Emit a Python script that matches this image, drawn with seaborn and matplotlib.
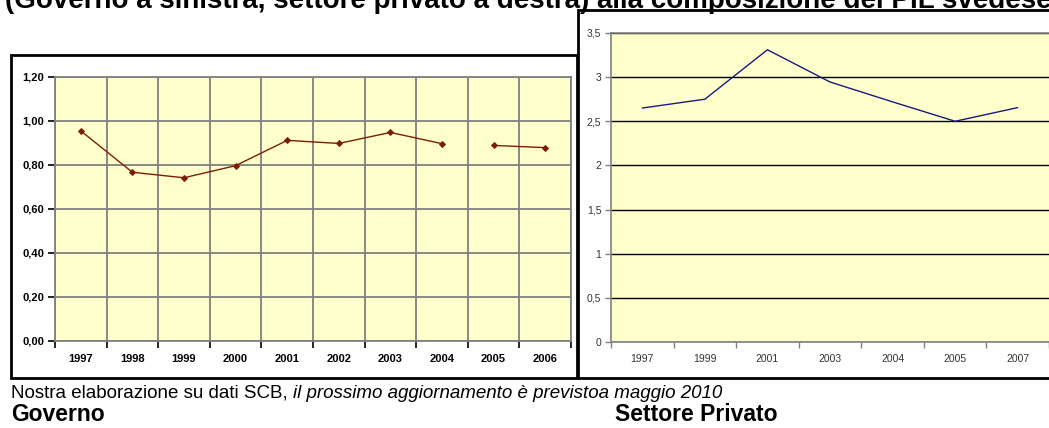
import numpy as np
import seaborn as sns
import matplotlib.pyplot as plt
from matplotlib.patches import Rectangle
from matplotlib.ticker import FixedLocator

# Governo (left chart)
gov_years = ['1997', '1998', '1999', '2000', '2001', '2002', '2003', '2004', '2005', '2006']
gov_values = [0.955, 0.767, 0.742, 0.797, 0.912, 0.898, 0.948, 0.897, 0.889, 0.879]
gov_yticks = [0.0, 0.2, 0.4, 0.6, 0.8, 1.0, 1.2]
gov_ylabels = ['0,00', '0,20', '0,40', '0,60', '0,80', '1,00', '1,20']

# Settore privato (right chart)
priv_years = ['1997', '1999', '2001', '2003', '2004', '2005', '2007']
priv_values = [2.65, 2.75, 3.31, 2.945, 2.72, 2.50, 2.655]
priv_yticks = [0, 0.5, 1, 1.5, 2, 2.5, 3, 3.5]
priv_ylabels = ['0', '0,5', '1', '1,5', '2', '2,5', '3', '3,5']

title = '(Governo a sinistra, settore privato a destra) alla composizione del PIL svedese'
source_plain = 'Nostra elaborazione su dati SCB, '
source_italic = 'il prossimo aggiornamento è previstoa maggio 2010'

sns.set_theme(style='ticks')
plt.rcParams['font.family'] = ['Liberation Sans', 'DejaVu Sans']
plt.rcParams['text.color'] = 'black'

W, H = 1049, 428
fig = plt.figure(figsize=(W / 100, H / 100), dpi=100)


def box(x0, y0, x1, y1):
    # pixel coords (top-left origin) -> figure coords
    return [x0 / W, 1 - y1 / H, (x1 - x0) / W, (y1 - y0) / H]


bg = '#FFFFCC'
gray = '#808080'

# frames around the two charts
fig.add_artist(Rectangle((11 / W, 1 - 378 / H), 566 / W, 323 / H, transform=fig.transFigure,
                         fill=False, edgecolor='black', linewidth=2))
fig.add_artist(Rectangle((578 / W, 1 - 378 / H), 500 / W, 368 / H, transform=fig.transFigure,
                         fill=False, edgecolor='black', linewidth=2))

# ---- left chart: Governo
ax1 = fig.add_axes(box(55, 77, 571, 341))
ax1.set_facecolor(bg)
n1 = len(gov_years)
sns.pointplot(x=gov_years[:8], y=gov_values[:8], order=gov_years, color='#7A1E08',
              markers='D', markersize=3, linewidth=1, ax=ax1)
sns.pointplot(x=gov_years[8:], y=gov_values[8:], order=gov_years, color='#7A1E08',
              markers='D', markersize=3, linewidth=1, ax=ax1)
ax1.set_xlim(-0.5, n1 - 0.5)
ax1.set_ylim(0, 1.2)
ax1.set_yticks(gov_yticks)
ax1.set_yticklabels(gov_ylabels, fontsize=8, fontweight='bold', color='black')
ax1.set_xticks(range(n1))
ax1.set_xticklabels(gov_years, fontsize=8, fontweight='bold', color='black')
ax1.xaxis.set_minor_locator(FixedLocator(np.arange(-0.5, n1, 1.0)))
ax1.tick_params(axis='x', which='major', length=0, pad=9)
ax1.tick_params(axis='x', which='minor', length=5, width=1.2, color='black', direction='out')
ax1.tick_params(axis='y', length=5, width=1.2, color='black', pad=3)
ax1.grid(True, axis='y', color=gray, linewidth=1.3)
ax1.grid(True, axis='x', which='minor', color=gray, linewidth=1.3)
ax1.set_axisbelow(True)
for s in ax1.spines.values():
    s.set_color(gray)
    s.set_linewidth(1.3)
ax1.set_xlabel('')
ax1.set_ylabel('')

# ---- right chart: Settore Privato
ax2 = fig.add_axes(box(611, 33, 1049, 342))
ax2.set_facecolor(bg)
n2 = len(priv_years)
sns.lineplot(x=priv_years, y=priv_values, color='#1A1A80', linewidth=1, ax=ax2)
ax2.set_xlim(-0.5, n2 - 0.5)
ax2.set_ylim(0, 3.5)
ax2.set_yticks(priv_yticks)
ax2.set_yticklabels(priv_ylabels, fontsize=7.5, color='#333333')
ax2.set_xticks(range(n2))
ax2.set_xticklabels(priv_years, fontsize=7.5, color='#333333')
ax2.xaxis.set_minor_locator(FixedLocator(np.arange(-0.5, n2, 1.0)))
ax2.tick_params(axis='x', which='major', length=0, pad=9)
ax2.tick_params(axis='x', which='minor', length=4, width=1, color=gray, direction='out')
ax2.tick_params(axis='y', length=4, width=1, color=gray, pad=3)
ax2.grid(True, axis='y', color='black', linewidth=1)
ax2.set_axisbelow(True)
for s in ax2.spines.values():
    s.set_color(gray)
    s.set_linewidth(1.2)
ax2.spines['right'].set_visible(False)
ax2.set_xlabel('')
ax2.set_ylabel('')

# ---- texts (title is cut off at the top, as in the source screenshot)
fig.text(5 / W, 1 - 8 / H, title, fontsize=20, fontweight='bold', va='baseline', ha='left')

t1 = fig.text(11 / W, 1 - 398 / H, source_plain, fontsize=13.5, va='baseline', ha='left')
fig.canvas.draw()
bb = t1.get_window_extent(renderer=fig.canvas.get_renderer())
fig.text(bb.x1 / W, 1 - 398 / H, source_italic, fontsize=13.5, style='italic',
         va='baseline', ha='left')

fig.text(11 / W, 1 - 421 / H, 'Governo', fontsize=16.5, fontweight='bold', va='baseline', ha='left')
fig.text(615 / W, 1 - 421 / H, 'Settore Privato', fontsize=16.5, fontweight='bold',
         va='baseline', ha='left')

fig.savefig('out.png', dpi=100, facecolor='white')
